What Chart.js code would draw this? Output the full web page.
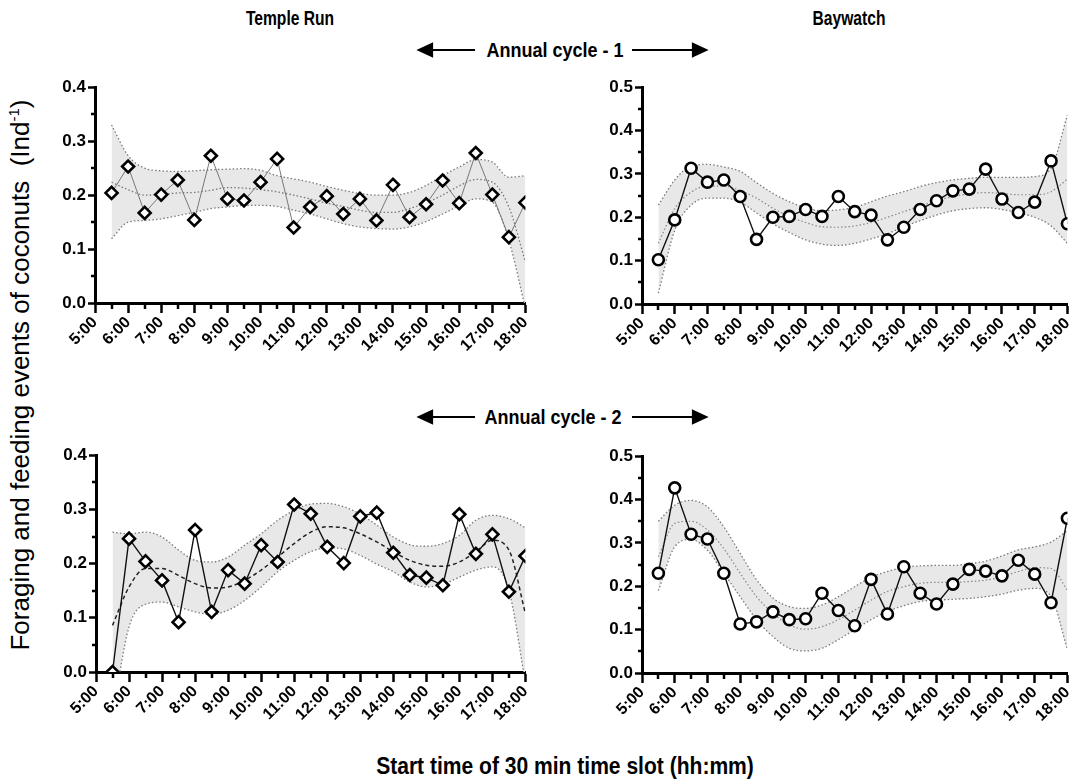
<!DOCTYPE html>
<html><head><meta charset="utf-8">
<script src="https://cdn.jsdelivr.net/npm/chart.js@4.4.0/dist/chart.umd.min.js"></script>
<style>
body{margin:0;width:1082px;height:784px;background:#fff;position:relative;overflow:hidden;font-family:"Liberation Sans",Arial,sans-serif;}
.t{position:absolute;font-weight:bold;white-space:nowrap;color:#000;}
.box{position:absolute;}
svg{position:absolute;left:0;top:0;}
</style></head><body>

<div class="t" style="left:290px;top:18px;transform:translate(-50%,-50%) scaleX(0.78);font-size:20px;">Temple Run</div>
<div class="t" style="left:849px;top:18px;transform:translate(-50%,-50%) scaleX(0.78);font-size:20px;">Baywatch</div>
<div class="t" style="left:555px;top:50px;transform:translate(-50%,-50%) scaleX(0.9);font-size:20px;">Annual cycle - 1</div>
<div class="t" style="left:553px;top:417px;transform:translate(-50%,-50%) scaleX(0.9);font-size:20px;">Annual cycle - 2</div>
<div class="t" style="left:565px;top:766px;transform:translate(-50%,-50%) scaleX(0.915);font-size:23px;">Start time of 30 min time slot (hh:mm)</div>
<div class="t" style="left:20px;top:375px;transform:translate(-50%,-50%) rotate(-90deg);font-weight:normal;font-size:26px;">Foraging and feeding events of coconuts&nbsp; (Ind<sup style="font-size:15px">-1</sup>)</div>

<svg width="1082" height="784">
  <g stroke="#000" stroke-width="2.2" fill="#000">
    <line x1="428" y1="50" x2="475" y2="50"/><polygon points="419,50 432,44 432,56"/>
    <line x1="632" y1="50" x2="696" y2="50"/><polygon points="706,50 693,44 693,56"/>
    <line x1="428" y1="417" x2="475" y2="417"/><polygon points="419,417 432,411 432,423"/>
    <line x1="632" y1="417" x2="696" y2="417"/><polygon points="706,417 693,411 693,423"/>
  </g>
</svg>

<div class="box" style="left:40px;top:75px;"><canvas id="c1" width="499" height="298"></canvas></div>
<div class="box" style="left:587px;top:75px;"><canvas id="c2" width="494" height="299"></canvas></div>
<div class="box" style="left:41px;top:443px;"><canvas id="c3" width="498" height="299"></canvas></div>
<div class="box" style="left:587px;top:444px;"><canvas id="c4" width="494" height="299"></canvas></div>

<script>
// ---- data ----
const slotStarts = [5.5,6,6.5,7,7.5,8,8.5,9,9.5,10,10.5,11,11.5,12,12.5,13,13.5,14,14.5,15,15.5,16,16.5,17,17.5,18];
const hourTicks = [5,6,7,8,9,10,11,12,13,14,15,16,17,18];
const halfHourTicks = [5.5,6.5,7.5,8.5,9.5,10.5,11.5,12.5,13.5,14.5,15.5,16.5,17.5];
const minorY = [0.05,0.15,0.25,0.35,0.45];

// Temple Run, annual cycle 1
const tr1Obs   = [0.204,0.253,0.167,0.201,0.228,0.154,0.273,0.193,0.190,0.224,0.267,0.140,0.178,0.198,0.165,0.193,0.153,0.219,0.159,0.183,0.227,0.185,0.278,0.201,0.122,0.186];
const tr1Fit   = [0.224,0.210,0.200,0.201,0.204,0.205,0.209,0.214,0.213,0.210,0.206,0.200,0.193,0.185,0.179,0.172,0.168,0.168,0.175,0.186,0.200,0.217,0.229,0.224,0.178,0.076];
const tr1Upper = [0.330,0.273,0.250,0.245,0.244,0.245,0.247,0.248,0.249,0.246,0.236,0.230,0.224,0.216,0.209,0.203,0.200,0.200,0.205,0.218,0.236,0.252,0.266,0.261,0.233,0.236];
const tr1Lower = [0.119,0.150,0.153,0.156,0.162,0.168,0.175,0.178,0.181,0.181,0.179,0.172,0.165,0.156,0.147,0.141,0.138,0.137,0.141,0.151,0.165,0.180,0.193,0.187,0.116,-0.010];

// Baywatch, annual cycle 1
const bw1Obs   = [0.102,0.194,0.313,0.281,0.286,0.248,0.149,0.200,0.202,0.218,0.202,0.248,0.213,0.205,0.148,0.177,0.218,0.238,0.261,0.265,0.311,0.242,0.211,0.235,0.330,0.185];
const bw1Fit   = [0.140,0.220,0.258,0.272,0.272,0.262,0.244,0.221,0.202,0.188,0.178,0.177,0.180,0.188,0.200,0.213,0.226,0.238,0.248,0.254,0.257,0.255,0.252,0.252,0.259,0.288];
const bw1Upper = [0.228,0.286,0.318,0.322,0.316,0.306,0.280,0.255,0.236,0.222,0.215,0.217,0.223,0.236,0.249,0.259,0.271,0.280,0.286,0.290,0.292,0.292,0.292,0.294,0.313,0.436];
const bw1Lower = [0.025,0.170,0.228,0.244,0.244,0.235,0.210,0.185,0.165,0.148,0.138,0.135,0.140,0.150,0.162,0.178,0.192,0.205,0.215,0.220,0.222,0.218,0.210,0.200,0.180,0.140];

// Temple Run, annual cycle 2
const tr2Obs   = [0.000,0.246,0.204,0.169,0.092,0.262,0.111,0.188,0.163,0.234,0.203,0.309,0.292,0.231,0.201,0.287,0.294,0.220,0.179,0.174,0.160,0.291,0.218,0.254,0.148,0.214];
const tr2Fit   = [0.086,0.157,0.191,0.191,0.178,0.163,0.155,0.157,0.169,0.188,0.212,0.237,0.258,0.268,0.266,0.255,0.240,0.222,0.206,0.197,0.195,0.203,0.222,0.243,0.225,0.108];
const tr2Upper = [0.258,0.255,0.258,0.249,0.225,0.206,0.203,0.212,0.234,0.255,0.280,0.298,0.310,0.311,0.305,0.291,0.271,0.249,0.235,0.232,0.237,0.252,0.280,0.289,0.283,0.266];
const tr2Lower = [-0.080,0.083,0.125,0.129,0.120,0.111,0.106,0.114,0.132,0.157,0.185,0.206,0.222,0.229,0.227,0.215,0.199,0.185,0.166,0.157,0.162,0.175,0.188,0.194,0.151,-0.020];

// Baywatch, annual cycle 2
const bw2Obs   = [0.230,0.427,0.320,0.309,0.230,0.113,0.118,0.141,0.123,0.125,0.184,0.144,0.109,0.216,0.136,0.245,0.184,0.159,0.205,0.239,0.235,0.224,0.260,0.228,0.162,0.357];
const bw2Fit   = [0.268,0.345,0.350,0.330,0.287,0.230,0.176,0.138,0.111,0.101,0.107,0.123,0.145,0.168,0.188,0.199,0.207,0.209,0.209,0.211,0.214,0.222,0.234,0.243,0.241,0.191];
const bw2Upper = [0.350,0.387,0.398,0.383,0.337,0.276,0.215,0.173,0.153,0.149,0.157,0.176,0.199,0.221,0.234,0.244,0.247,0.248,0.248,0.252,0.258,0.270,0.284,0.291,0.302,0.329];
const bw2Lower = [0.190,0.291,0.308,0.283,0.230,0.176,0.123,0.084,0.057,0.051,0.057,0.077,0.100,0.123,0.142,0.155,0.165,0.168,0.170,0.172,0.176,0.182,0.191,0.195,0.176,0.054];

// ---- drawing ----
const pts = arr => slotStarts.map((x,i)=>({x, y: arr[i]}));

const minorTicks = {
  id:'minorTicks',
  afterDraw(chart){
    const ctx=chart.ctx, xs=chart.scales.x, ys=chart.scales.y;
    ctx.save(); ctx.strokeStyle='#000'; ctx.lineWidth=2.5;
    halfHourTicks.forEach(v=>{const p=Math.round(xs.getPixelForValue(v)); ctx.beginPath(); ctx.moveTo(p, xs.top); ctx.lineTo(p, xs.top+6); ctx.stroke();});
    minorY.filter(v=>v<ys.max).forEach(v=>{const p=Math.round(ys.getPixelForValue(v)); ctx.beginPath(); ctx.moveTo(ys.right, p); ctx.lineTo(ys.right-4, p); ctx.stroke();});
    ctx.restore();
  }
};

function makeChart(id, obs, fit, upper, lower, o){
  const dotted = {borderColor:'#7a7a7a', borderWidth:1.3, borderDash:[1.5,2.2], pointRadius:0, cubicInterpolationMode:'monotone', fill:false};
  new Chart(document.getElementById(id), {
    type:'line',
    data:{datasets:[
      {data:pts(obs), borderColor:o.lineColor, borderWidth:o.lineWidth, tension:0, pointStyle:o.marker, pointRadius:o.radius,
       pointBorderWidth:2.6, pointBorderColor:'#000', pointBackgroundColor:'#fff', order:0, fill:false},
      Object.assign({}, dotted, {data:pts(fit), borderColor:o.fitColor, borderDash:o.fitDash, borderWidth:o.fitWidth, order:1}),
      Object.assign({}, dotted, {data:pts(upper), order:2}),
      Object.assign({}, dotted, {data:pts(lower), order:3, fill:2, backgroundColor:'#e8e8e8'})
    ]},
    options:{
      responsive:false, animation:false, events:[],
      layout:{padding:{top:12, right:8, left:0, bottom:0}},
      plugins:{legend:{display:false}, tooltip:{enabled:false}},
      scales:{
        x:{type:'linear', min:5, max:18,
          afterBuildTicks(s){ s.ticks = hourTicks.map(v=>({value:v})); },
          afterFit(s){ s.height = 70; },
          border:{display:true, color:'#000', width:3},
          grid:{display:true, drawOnChartArea:false, drawTicks:true, tickLength:10, tickWidth:2.5, tickColor:'#000'},
          ticks:{color:'#000', font:{family:'Liberation Sans, Arial', size:16, weight:'bold'}, maxRotation:45, minRotation:45, padding:0,
            autoSkip:false, callback:v=>v+':00'}
        },
        y:{min:0, max:o.ymax,
          afterBuildTicks(s){ const t=[]; for(let k=0;k<=Math.round(o.ymax*10);k++) t.push({value:k/10}); s.ticks=t; },
          afterFit(s){ s.width = 55; },
          border:{display:true, color:'#000', width:3},
          grid:{display:true, drawOnChartArea:false, drawTicks:true, tickLength:7, tickWidth:2.5, tickColor:'#000'},
          ticks:{color:'#000', font:{family:'Liberation Sans, Arial', size:17, weight:'bold'}, padding:2, callback:v=>v.toFixed(1)}
        }
      }
    },
    plugins:[minorTicks]
  });
}

makeChart('c1', tr1Obs, tr1Fit, tr1Upper, tr1Lower, {ymax:0.4, marker:'rectRot', radius:6, lineColor:'#777', lineWidth:1, fitColor:'#777', fitDash:[1.5,2.2], fitWidth:1.3});
makeChart('c2', bw1Obs, bw1Fit, bw1Upper, bw1Lower, {ymax:0.5, marker:'circle', radius:5.5, lineColor:'#111', lineWidth:1.4, fitColor:'#888', fitDash:[1.5,2.2], fitWidth:1.2});
makeChart('c3', tr2Obs, tr2Fit, tr2Upper, tr2Lower, {ymax:0.4, marker:'rectRot', radius:6, lineColor:'#111', lineWidth:1.4, fitColor:'#222', fitDash:[4,3], fitWidth:1.5});
makeChart('c4', bw2Obs, bw2Fit, bw2Upper, bw2Lower, {ymax:0.5, marker:'circle', radius:5.5, lineColor:'#111', lineWidth:1.4, fitColor:'#888', fitDash:[1.5,2.2], fitWidth:1.2});
</script>
</body></html>
